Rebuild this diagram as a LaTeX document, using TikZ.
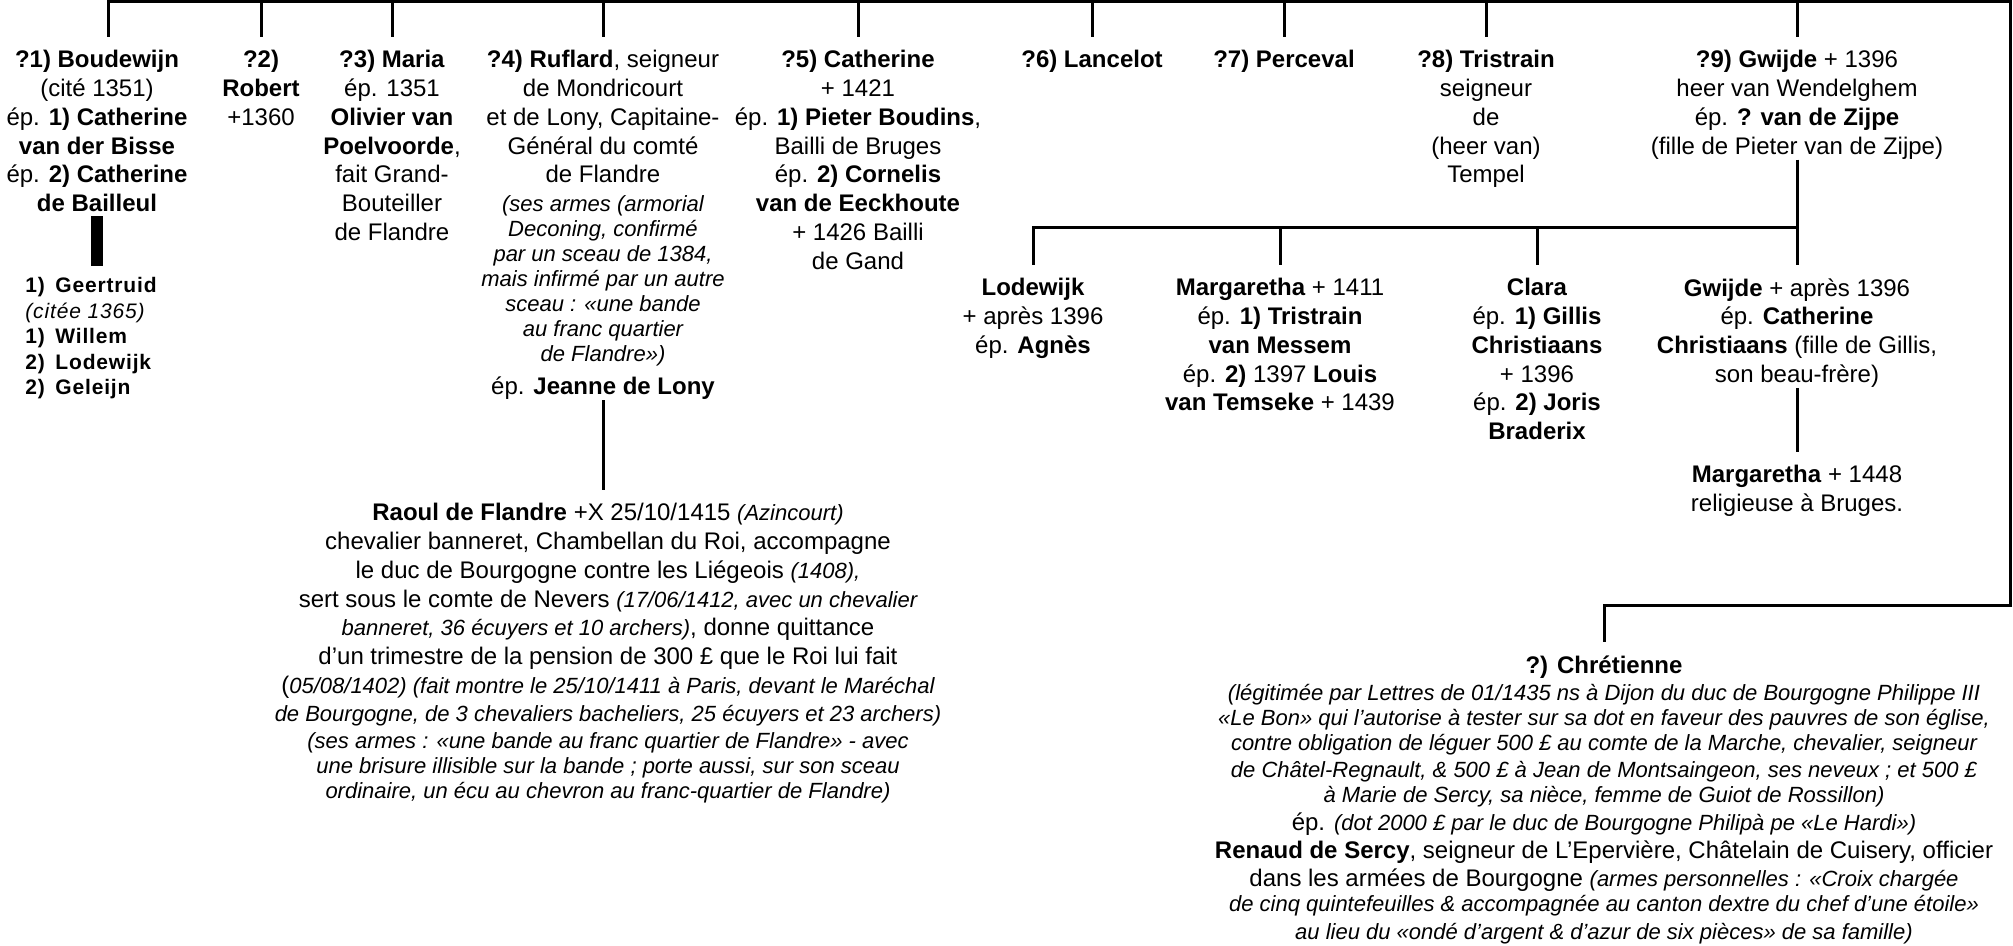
\documentclass[tikz,border=0pt]{standalone}
\usepackage{fontspec}
\setmainfont{Liberation Sans}
\newfontfamily\kidsfont[LetterSpace=4]{Liberation Sans}
\usetikzlibrary{positioning}
\tikzset{
  person/.style={align=center, inner sep=0pt, anchor=north,
    font=\fontsize{12}{14.4}\selectfont},
  kin/.style={line width=1.5pt},
  bar/.style={line width=6pt}
}
\newcommand{\note}[1]{{\fontsize{11}{12.5}\selectfont\itshape #1}}
\begin{document}
\begin{tikzpicture}[x=0.5pt,y=-0.5pt]
\useasboundingbox (0,0) rectangle (2013,946);
% first generation
\node[person] (b1) at (97,50) {\textbf{?1) Boudewijn}\\(cité 1351)\\ép. \textbf{1) Catherine}\\\textbf{van der Bisse}\\ép. \textbf{2) Catherine}\\\textbf{de Bailleul}};
\node[person] (b2) at (261,50) {\textbf{?2)}\\\textbf{Robert}\\+1360};
\node[person] (b3) at (392,50) {\textbf{?3) Maria}\\ép. 1351\\\textbf{Olivier van}\\\textbf{Poelvoorde},\\fait Grand-\\Bouteiller\\de Flandre};
\node[person] (b4) at (603,50) {\textbf{?4) Ruflard}, seigneur\\de Mondricourt\\et de Lony, Capitaine-\\Général du comté\\de Flandre\\
  \note{(ses armes (armorial}\\[-1.9pt]\note{Deconing, confirmé}\\[-1.9pt]\note{par un sceau de 1384,}\\[-1.9pt]\note{mais infirmé par un autre}\\[-1.9pt]\note{sceau : «une bande}\\[-1.9pt]\note{au franc quartier}\\[-1.9pt]\note{de Flandre»)}\\[2.1pt]ép. \textbf{Jeanne de Lony}};
\node[person] (b5) at (858,50) {\textbf{?5) Catherine}\\+ 1421\\ép. \textbf{1) Pieter Boudins},\\Bailli de Bruges\\ép. \textbf{2) Cornelis}\\\textbf{van de Eeckhoute}\\+ 1426 Bailli\\de Gand};
\node[person] (b6) at (1092,50) {\textbf{?6) Lancelot}};
\node[person] (b7) at (1284,50) {\textbf{?7) Perceval}};
\node[person] (b8) at (1486,50) {\textbf{?8) Tristrain}\\seigneur\\de\\(heer van)\\Tempel};
\node[person] (b9) at (1797,50) {\textbf{?9) Gwijde} + 1396\\heer van Wendelghem\\ép. \textbf{? van de Zijpe}\\(fille de Pieter van de Zijpe)};
% children of Boudewijn
\node[anchor=north west, align=left, inner sep=0pt,
  font=\kidsfont\bfseries\fontsize{10.5}{12.75}\selectfont] (kids) at (25,277)
  {1)\hspace{0.5em}Geertruid\\{\mdseries\itshape (citée 1365)}\\1)\hspace{0.5em}Willem\\2)\hspace{0.5em}Lodewijk\\2)\hspace{0.5em}Geleijn};
% children of Gwijde
\node[person] (c1) at (1033,278) {\textbf{Lodewijk}\\+ après 1396\\ép. \textbf{Agnès}};
\node[person] (c2) at (1280,278) {\textbf{Margaretha} + 1411\\ép. \textbf{1) Tristrain}\\\textbf{van Messem}\\ép. \textbf{2)} 1397 \textbf{Louis}\\\textbf{van Temseke} + 1439};
\node[person] (c3) at (1537,278) {\textbf{Clara}\\ép. \textbf{1) Gillis}\\\textbf{Christiaans}\\+ 1396\\ép. \textbf{2) Joris}\\\textbf{Braderix}};
\node[person] (c4) at (1797,278) {\textbf{Gwijde} + après 1396\\ép. \textbf{Catherine}\\\textbf{Christiaans} (fille de Gillis,\\son beau-frère)};
\node[person] (d1) at (1797,465) {\textbf{Margaretha} + 1448\\religieuse à Bruges.};
% son of Ruflard
\node[person] (raoul) at (608,503) {\textbf{Raoul de Flandre} +X 25/10/1415 \note{(Azincourt)}\\
  chevalier banneret, Chambellan du Roi, accompagne\\
  le duc de Bourgogne contre les Liégeois \note{(1408),}\\
  sert sous le comte de Nevers \note{(17/06/1412, avec un chevalier}\\
  \note{banneret, 36 écuyers et 10 archers)}, donne quittance\\
  d’un trimestre de la pension de 300 £ que le Roi lui fait\\
  (\note{05/08/1402) (fait montre le 25/10/1411 à Paris, devant le Maréchal}\\[-0.4pt]
  \note{de Bourgogne, de 3 chevaliers bacheliers, 25 écuyers et 23 archers)}\\[-0.9pt]
  \note{(ses armes : «une bande au franc quartier de Flandre» - avec}\\[-1.9pt]
  \note{une brisure illisible sur la bande ; porte aussi, sur son sceau}\\[-1.9pt]
  \note{ordinaire, un écu au chevron au franc-quartier de Flandre)}};
% the bastard
\node[person] (ch) at (1604,655) {\textbf{?) Chrétienne}\\[-0.9pt]
  \note{(légitimée par Lettres de 01/1435 ns à Dijon du duc de Bourgogne Philippe III}\\[-1.9pt]
  \note{«Le Bon» qui l’autorise à tester sur sa dot en faveur des pauvres de son église,}\\[-1.9pt]
  \note{contre obligation de léguer 500 £ au comte de la Marche, chevalier, seigneur}\\[-0.9pt]
  \note{de Châtel-Regnault, \& 500 £ à Jean de Montsaingeon, ses neveux ; et 500 £}\\[-1.9pt]
  \note{à Marie de Sercy, sa nièce, femme de Guiot de Rossillon)}\\[-0.4pt]
  ép. \note{(dot 2000 £ par le duc de Bourgogne Philipà pe «Le Hardi»)}\\[-0.4pt]
  \textbf{Renaud de Sercy}, seigneur de L’Epervière, Châtelain de Cuisery, officier\\
  dans les armées de Bourgogne \note{(armes personnelles : «Croix chargée}\\[-1.9pt]
  \note{de cinq quintefeuilles \& accompagnée au canton dextre du chef d’une étoile»}\\[-0.4pt]
  \note{au lieu du «ondé d’argent \& d’azur de six pièces» de sa famille)}};
% lines
\coordinate (bus) at (0,2);
\coordinate (edge) at (2010,0);
\coordinate (chbus) at (0,605);
\coordinate (sib) at (0,228);
\coordinate (b1top) at ([xshift=5.5pt]b1.north);
\coordinate (b1drop) at ([yshift=6.5pt]b1top);
\draw[kin] (b1drop) -- (b1top |- bus) -- (edge |- bus) -- (edge |- chbus) -- (ch.north |- chbus) -- ([yshift=6.5pt]ch.north);
\foreach \n in {b2,b3,b4,b5,b6,b7,b8,b9}
  \draw[kin] (\n.north |- bus) -- ([yshift=6.5pt]\n.north);
\coordinate (b1foot) at ([yshift=-2pt]b1.south);
\coordinate (kidstop) at ([yshift=5.5pt]kids.north);
\draw[bar] (b1foot) -- (b1foot |- kidstop);
\coordinate (rtop) at ([yshift=6.5pt]raoul.north);
\draw[kin] (b4.south) -- (b4.south |- rtop);
\draw[kin] ([yshift=6.5pt]c1.north) -- (c1.north |- sib) -- (sib -| b9.south);
\foreach \n in {c2,c3}
  \draw[kin] (\n.north |- sib) -- ([yshift=6.5pt]\n.north);
\draw[kin] (b9.south) -- ([yshift=6.5pt]c4.north);
\draw[kin] (c4.south) -- ([yshift=6.5pt]d1.north);
\end{tikzpicture}
\end{document}
